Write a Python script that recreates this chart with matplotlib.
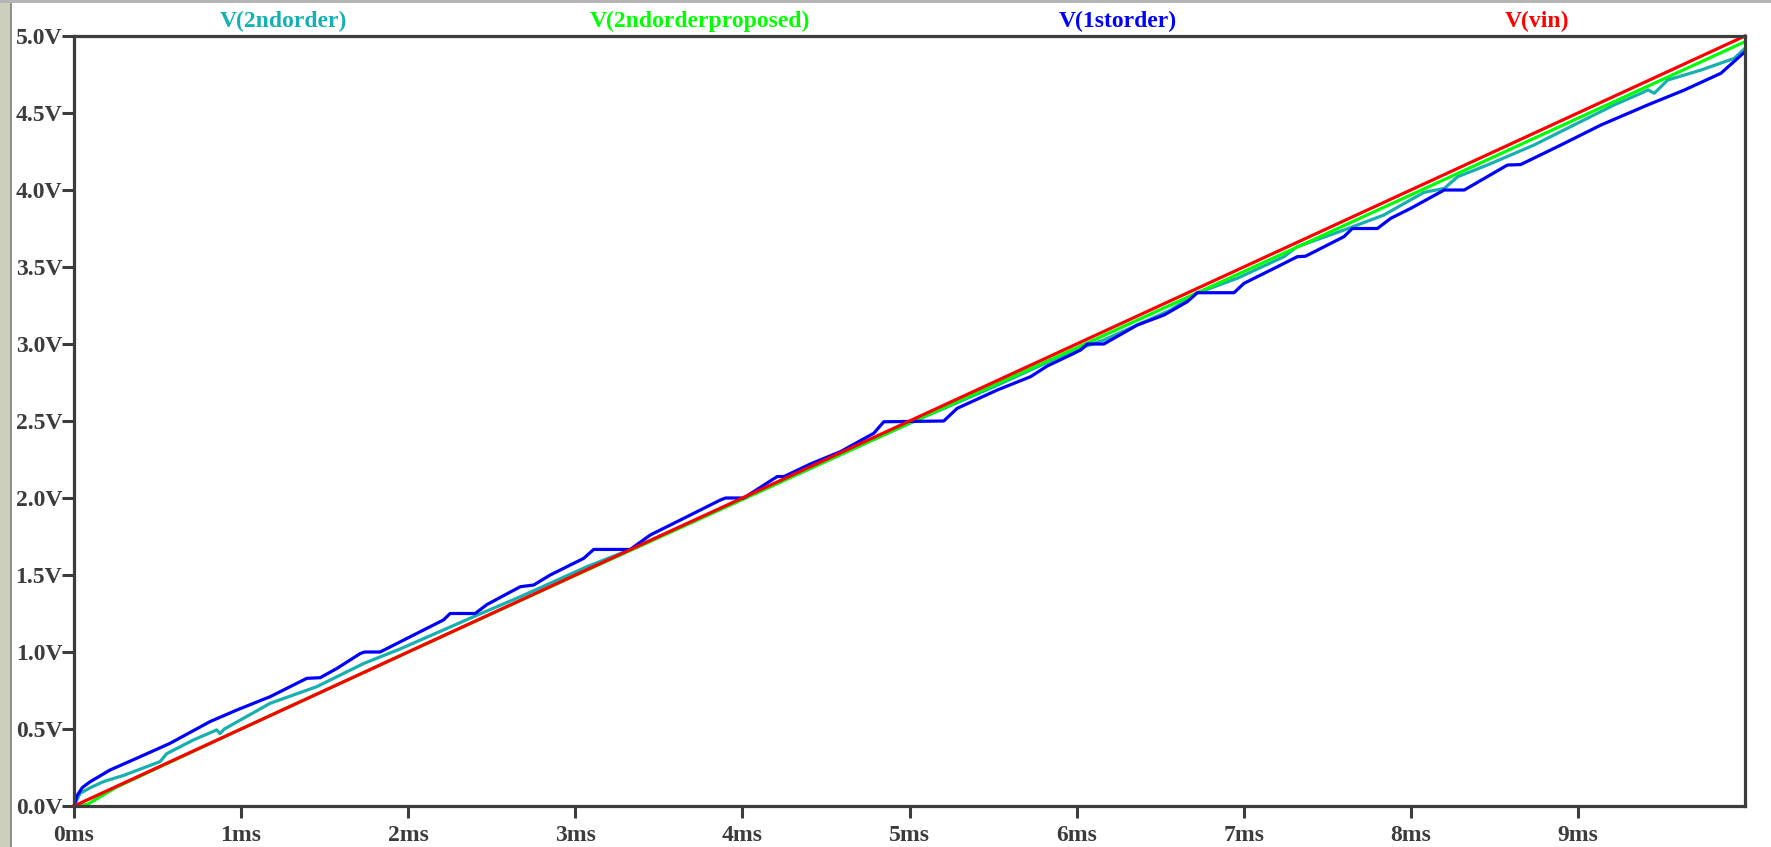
import numpy as np
import matplotlib
matplotlib.use("Agg")
import matplotlib.pyplot as plt
from matplotlib.patches import Rectangle

# --- data (time in ms, voltage in V) ---
t_vin = [0.0, 10.0]
v_vin = [0.0, 5.0]

t_prop = [0.0, 0.08, 0.25, 1.0, 2.0, 3.0, 4.0, 4.5, 5.0, 6.0, 7.0, 8.0, 9.0, 10.0]
v_prop = [0.0, 0.01, 0.12, 0.5, 1.0, 1.497, 1.99, 2.238, 2.486, 2.975, 3.47, 3.968, 4.466, 4.963]

t_2nd = [0.0, 0.036, 0.1, 0.176, 0.3, 0.515, 0.555, 0.715, 0.854, 0.874, 0.9,
         1.174, 1.453, 1.733, 1.952, 2.391, 2.671, 3.07, 3.33, 4.0, 4.5, 5.0,
         5.5, 5.964, 6.163, 6.563, 6.72, 6.962, 7.241, 7.32, 7.6, 7.84, 7.94,
         8.08, 8.2, 8.28, 8.458, 8.737, 9.216, 9.377, 9.42, 9.457, 9.537,
         9.737, 9.936, 10.0]
v_2nd = [0.0, 0.082, 0.12, 0.158, 0.2, 0.288, 0.34, 0.429, 0.494, 0.47, 0.5,
         0.667, 0.775, 0.925, 1.02, 1.229, 1.359, 1.554, 1.666, 1.995, 2.24, 2.485,
         2.72, 2.95, 3.026, 3.221, 3.33, 3.427, 3.567, 3.632, 3.74, 3.838, 3.9,
         3.985, 4.01, 4.086, 4.162, 4.292, 4.552, 4.628, 4.65, 4.628, 4.714,
         4.779, 4.855, 4.92]

t_1st = [0.0, 0.02, 0.05, 0.096, 0.216, 0.375, 0.575, 0.814, 0.974, 1.174,
         1.393, 1.473, 1.573, 1.713, 1.74, 1.832, 1.952, 2.211, 2.251, 2.401,
         2.471, 2.671, 2.751, 2.85, 3.05, 3.11, 3.329, 3.449, 3.649, 3.868,
         3.9, 4.008, 4.208, 4.25, 4.407, 4.587, 4.786, 4.846, 5.205, 5.285,
         5.525, 5.725, 5.824, 5.964, 6.024, 6.064, 6.163, 6.363, 6.523, 6.663,
         6.722, 6.942, 7.002, 7.202, 7.321, 7.37, 7.6, 7.65, 7.8, 7.88, 8.0,
         8.2, 8.32, 8.578, 8.657, 8.898, 9.138, 9.417, 9.637, 9.856, 10.0]
v_1st = [0.0, 0.07, 0.12, 0.157, 0.234, 0.31, 0.407, 0.548, 0.623, 0.71,
         0.829, 0.833, 0.893, 0.99, 1.0, 1.0, 1.066, 1.208, 1.25, 1.25,
         1.308, 1.424, 1.435, 1.5, 1.608, 1.666, 1.666, 1.76, 1.868, 1.987,
         2.0, 2.0, 2.139, 2.14, 2.221, 2.301, 2.42, 2.495, 2.5, 2.582,
         2.701, 2.788, 2.857, 2.929, 2.961, 3.0, 3.0, 3.123, 3.188, 3.275,
         3.333, 3.333, 3.394, 3.502, 3.567, 3.57, 3.697, 3.75, 3.75, 3.816, 3.881,
         4.0, 4.0, 4.162, 4.165, 4.292, 4.422, 4.552, 4.649, 4.758, 4.898]

x_ticks = [0, 1, 2, 3, 4, 5, 6, 7, 8, 9]
x_labels = ["0ms", "1ms", "2ms", "3ms", "4ms", "5ms", "6ms", "7ms", "8ms", "9ms"]
y_ticks = [0.0, 0.5, 1.0, 1.5, 2.0, 2.5, 3.0, 3.5, 4.0, 4.5, 5.0]
y_labels = ["0.0V", "0.5V", "1.0V", "1.5V", "2.0V", "2.5V", "3.0V", "3.5V",
            "4.0V", "4.5V", "5.0V"]

series_names = ["V(2ndorder)", "V(2ndorderproposed)", "V(1storder)", "V(vin)"]
series_colors = ["#17b0b0", "#00ff00", "#0000ff", "#ff0000"]
label_xpx = [283, 700, 1118, 1537]

W, H = 1771, 847
fig = plt.figure(figsize=(W / 100, H / 100), dpi=100)
fig.patch.set_facecolor("white")

# window chrome: grey-green strip at left, thin grey band at top
fig.patches.append(Rectangle((0, 0), 10 / W, 1, transform=fig.transFigure,
                             facecolor="#cbcfbb", edgecolor="none", zorder=0))
fig.patches.append(Rectangle((10 / W, 0), 1.5 / W, 1, transform=fig.transFigure,
                             facecolor="#8f9288", edgecolor="none", zorder=0))
fig.patches.append(Rectangle((0, 1 - 3 / H), 1, 3 / H, transform=fig.transFigure,
                             facecolor="#b4b4b4", edgecolor="none", zorder=0))

ax = fig.add_axes([74 / W, 41 / H, (1745 - 74) / W, (806 - 36) / H])
ax.set_facecolor("white")

frame = "#3c3c3c"
lw = 2.3
ax.plot(t_2nd, v_2nd, color=series_colors[0], lw=lw, clip_on=False)
ax.plot(t_prop, v_prop, color=series_colors[1], lw=lw, clip_on=False)
ax.plot(t_1st, v_1st, color=series_colors[2], lw=lw, clip_on=False)
ax.plot(t_vin, v_vin, color=series_colors[3], lw=lw, clip_on=False)

ax.set_xlim(0, 10)
ax.set_ylim(0, 5)

font = dict(family="Liberation Serif", weight="bold", size=17)
ax.set_xticks(x_ticks)
ax.set_xticklabels(x_labels, color=frame, **font)
ax.set_yticks(y_ticks)
ax.set_yticklabels(y_labels, color=frame, **font)
ax.tick_params(axis="both", direction="out", length=8.5, width=2.2, color=frame)
ax.tick_params(axis="x", pad=5)
ax.tick_params(axis="y", pad=0)

for s in ax.spines.values():
    s.set_color(frame)
    s.set_linewidth(2.3)

for name, col, xp in zip(series_names, series_colors, label_xpx):
    fig.text(xp / W, 1 - 21 / H, name, color=col, ha="center", va="center", **font)

fig.savefig("out.png", dpi=100, facecolor=fig.get_facecolor())
